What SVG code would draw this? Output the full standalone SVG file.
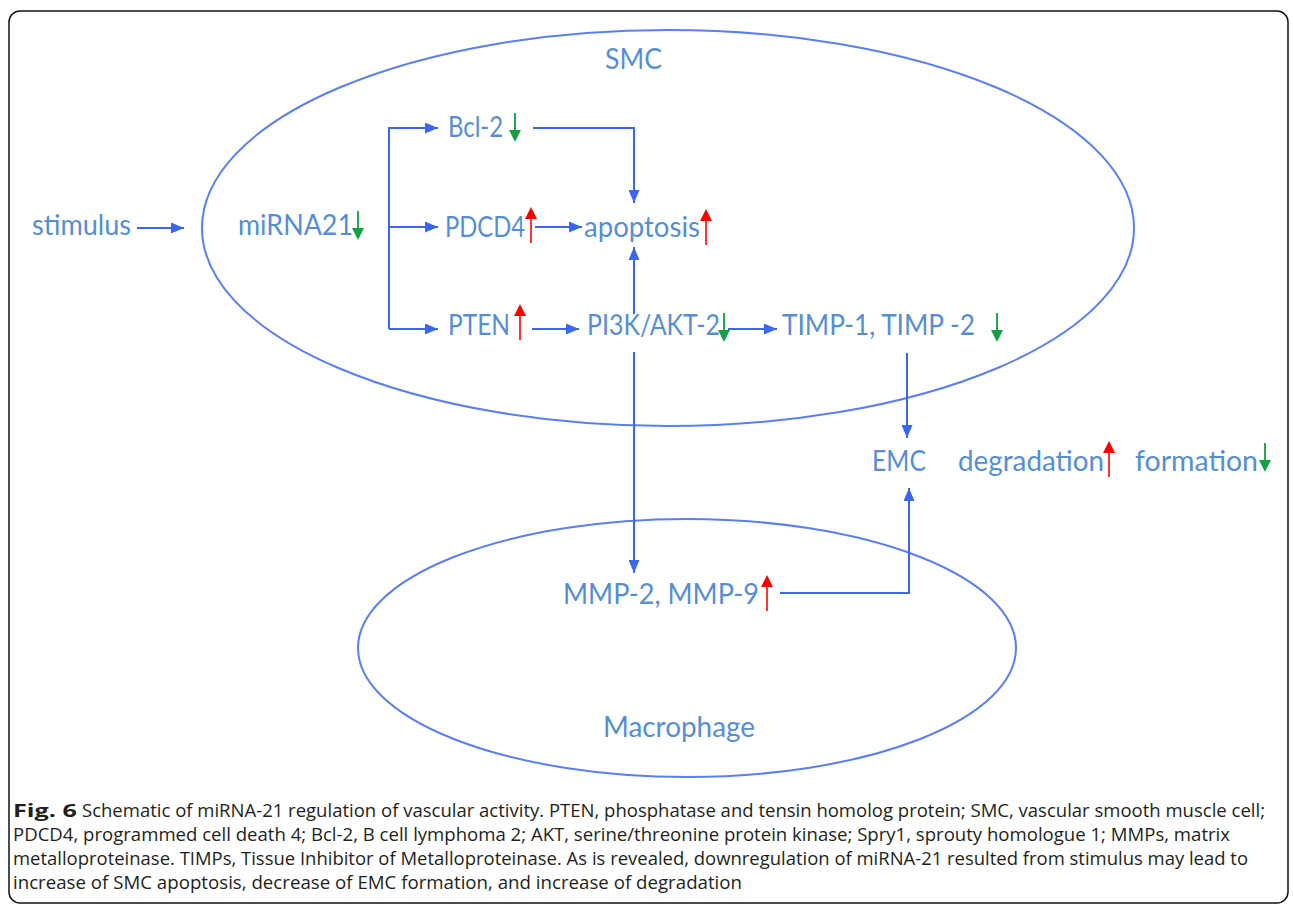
<svg xmlns="http://www.w3.org/2000/svg" width="1293" height="904" viewBox="0 0 1293 904">
<style>
.lbl{font-family:Lato,"Open Sans","Liberation Sans",sans-serif;font-size:28px;fill:#558ed5}
.cap{font-family:"Open Sans","Liberation Sans",sans-serif;font-size:18px;fill:#231f20}
.conn{fill:none;stroke:#3a66f0;stroke-width:2;marker-end:url(#ah)}
.cell{fill:none;stroke:#5a7ff0;stroke-width:2}
</style>
<defs>
<marker id="ah" markerUnits="userSpaceOnUse" markerWidth="13" markerHeight="11" refX="13" refY="5.5" orient="auto">
<path d="M0,0 L13,5.5 L0,11 z" fill="#3a66f0"/>
</marker>
<g id="up"><line x1="0" y1="10" x2="0" y2="36" stroke="#ff3333" stroke-width="2"/><polygon points="-6,12 0,0 6,12" fill="#ff0000"/></g>
<g id="down"><line x1="0" y1="0" x2="0" y2="20" stroke="#22aa4a" stroke-width="2"/><polygon points="-6,17 0,29 6,17" fill="#16a046"/></g>
</defs>
<rect x="9" y="11" width="1279" height="892" rx="11" fill="#fff" stroke="#111" stroke-width="1.5"/>
<g id="smc-cell"><ellipse class="cell" cx="668" cy="228" rx="466" ry="198"/><text class="lbl" x="605" y="69" textLength="57" lengthAdjust="spacingAndGlyphs">SMC</text></g>
<g id="macrophage-cell"><ellipse class="cell" cx="687" cy="648" rx="329" ry="129"/><text class="lbl" x="603" y="737" textLength="152" lengthAdjust="spacingAndGlyphs">Macrophage</text></g>
<g id="stimulus"><text class="lbl" x="32" y="235" textLength="99" lengthAdjust="spacingAndGlyphs">stimulus</text></g>
<g id="mirna21"><text class="lbl" x="238" y="235" textLength="115" lengthAdjust="spacingAndGlyphs">miRNA21</text><use href="#down" x="358" y="211"/></g>
<g id="bcl2"><text class="lbl" x="448" y="137" textLength="55" lengthAdjust="spacingAndGlyphs">Bcl-2</text><use href="#down" x="515" y="113"/></g>
<g id="pdcd4"><text class="lbl" x="445" y="237" textLength="80" lengthAdjust="spacingAndGlyphs">PDCD4</text><use href="#up" x="531" y="207"/></g>
<g id="apoptosis"><text class="lbl" x="584" y="237" textLength="116" lengthAdjust="spacingAndGlyphs">apoptosis</text><use href="#up" x="706" y="209"/></g>
<g id="pten"><text class="lbl" x="448" y="335" textLength="62" lengthAdjust="spacingAndGlyphs">PTEN</text><use href="#up" x="520" y="304"/></g>
<g id="pi3k-akt2"><text class="lbl" x="587" y="335" textLength="133" lengthAdjust="spacingAndGlyphs">PI3K/AKT-2</text><use href="#down" x="724" y="313"/></g>
<g id="timp"><text class="lbl" x="782" y="335" textLength="193" lengthAdjust="spacingAndGlyphs">TIMP-1, TIMP -2</text><use href="#down" x="997" y="313"/></g>
<g id="emc"><text class="lbl" x="872" y="471" textLength="54" lengthAdjust="spacingAndGlyphs">EMC</text></g>
<g id="degradation"><text class="lbl" x="958" y="471" textLength="146" lengthAdjust="spacingAndGlyphs">degradation</text><use href="#up" x="1109" y="441"/></g>
<g id="formation"><text class="lbl" x="1135" y="471" textLength="123" lengthAdjust="spacingAndGlyphs">formation</text><use href="#down" x="1265" y="443"/></g>
<g id="mmp"><text class="lbl" x="563" y="604" textLength="196" lengthAdjust="spacingAndGlyphs">MMP-2, MMP-9</text><use href="#up" x="767" y="575"/></g>
<g id="connectors">
<path class="conn" d="M137,228 H184"/>
<path class="conn" d="M389,329 V128 H438"/>
<path class="conn" d="M389,227 H438"/>
<path class="conn" d="M389,329 H438"/>
<path class="conn" d="M533,128 H634 V203"/>
<path class="conn" d="M535,227 H582"/>
<path class="conn" d="M532,329 H579"/>
<path class="conn" d="M634,314 V247"/>
<path class="conn" d="M634,352 V573"/>
<path class="conn" d="M728,329 H777"/>
<path class="conn" d="M907,353 V438"/>
<path class="conn" d="M780,593 H909 V488"/>
</g>
<g id="caption">
<text class="cap" x="13" y="817" font-weight="bold" textLength="64" lengthAdjust="spacingAndGlyphs">Fig. 6</text>
<text class="cap" x="82" y="817" textLength="1183" lengthAdjust="spacingAndGlyphs">Schematic of miRNA-21 regulation of vascular activity. PTEN, phosphatase and tensin homolog protein; SMC, vascular smooth muscle cell;</text>
<text class="cap" x="13" y="841" textLength="1217" lengthAdjust="spacingAndGlyphs">PDCD4, programmed cell death 4; Bcl-2, B cell lymphoma 2; AKT, serine/threonine protein kinase; Spry1, sprouty homologue 1; MMPs, matrix</text>
<text class="cap" x="13" y="865" textLength="1235" lengthAdjust="spacingAndGlyphs">metalloproteinase. TIMPs, Tissue Inhibitor of Metalloproteinase. As is revealed, downregulation of miRNA-21 resulted from stimulus may lead to</text>
<text class="cap" x="13" y="889" textLength="729" lengthAdjust="spacingAndGlyphs">increase of SMC apoptosis, decrease of EMC formation, and increase of degradation</text>
</g>
</svg>
